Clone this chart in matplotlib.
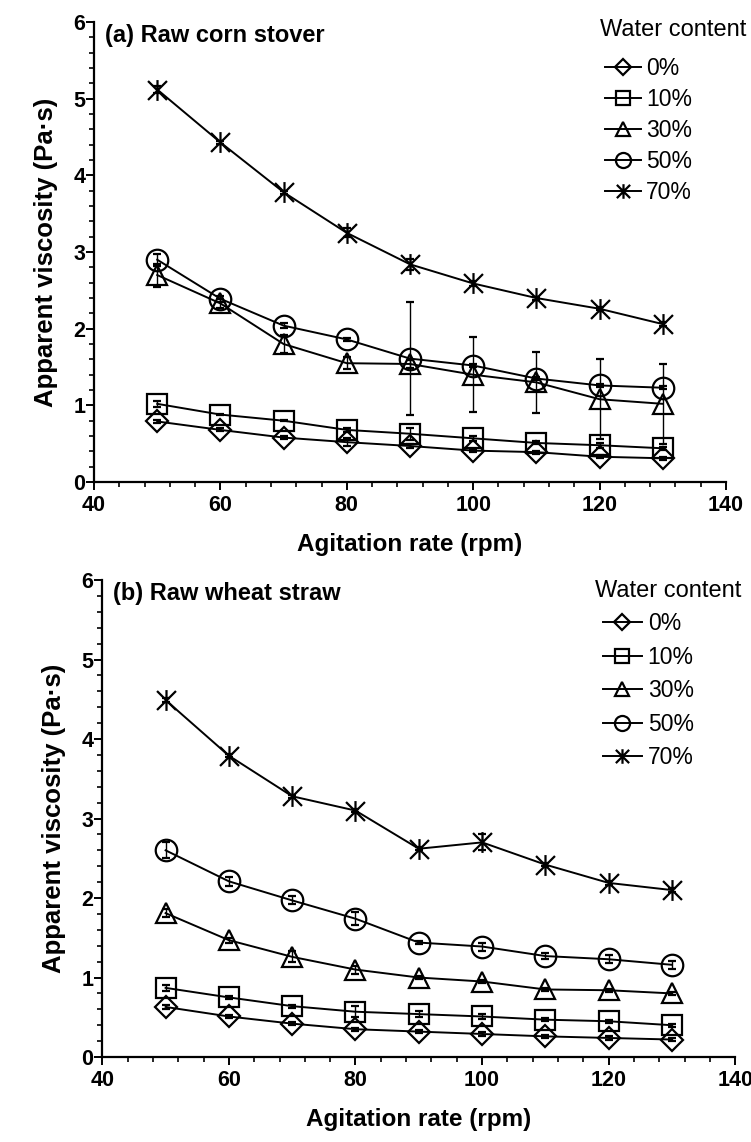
import numpy as np
import matplotlib
matplotlib.use('Agg')
import matplotlib.pyplot as plt
from matplotlib.path import Path
from matplotlib.ticker import MultipleLocator

plt.rcParams['font.family'] = ['Liberation Sans', 'DejaVu Sans']

# agitation rate (rpm)
rpm = [50, 60, 70, 80, 90, 100, 110, 120, 130]
labels = ['0%', '10%', '30%', '50%', '70%']

# (a) raw corn stover, apparent viscosity (Pa·s)
a_0 = [0.79, 0.68, 0.58, 0.52, 0.47, 0.41, 0.39, 0.33, 0.31]
a_10 = [1.02, 0.88, 0.80, 0.68, 0.63, 0.57, 0.51, 0.48, 0.44]
a_30 = [2.70, 2.33, 1.80, 1.55, 1.54, 1.40, 1.30, 1.08, 1.02]
a_50 = [2.90, 2.39, 2.04, 1.86, 1.61, 1.52, 1.35, 1.26, 1.23]
a_70 = [5.12, 4.43, 3.78, 3.25, 2.84, 2.59, 2.40, 2.26, 2.06]

a_0_err = [0.02, 0.02, 0.02, 0.05, 0.02, 0.02, 0.02, 0.02, 0.02]
a_10_err = [0.04, 0.01, 0.01, 0.03, 0.08, 0.03, 0.02, 0.03, 0.02]
a_30_err = [0.15, 0.06, 0.12, 0.08, 0.05, 0.49, 0.40, 0.52, 0.52]
a_50_err = [0.08, 0.04, 0.03, 0.02, 0.74, 0.02, 0.02, 0.02, 0.02]
a_70_err = [0.05, 0.02, 0.02, 0.06, 0.07, 0.03, 0.02, 0.02, 0.03]

# (b) raw wheat straw, apparent viscosity (Pa·s)
b_0 = [0.63, 0.51, 0.42, 0.35, 0.32, 0.29, 0.26, 0.24, 0.22]
b_10 = [0.87, 0.75, 0.64, 0.57, 0.54, 0.51, 0.47, 0.45, 0.40]
b_30 = [1.81, 1.47, 1.26, 1.10, 1.00, 0.95, 0.85, 0.84, 0.80]
b_50 = [2.60, 2.21, 1.97, 1.74, 1.44, 1.39, 1.27, 1.23, 1.16]
b_70 = [4.49, 3.79, 3.28, 3.10, 2.62, 2.70, 2.42, 2.19, 2.10]

b_0_err = [0.02, 0.02, 0.02, 0.02, 0.02, 0.02, 0.02, 0.02, 0.02]
b_10_err = [0.04, 0.02, 0.02, 0.07, 0.04, 0.03, 0.02, 0.02, 0.02]
b_30_err = [0.05, 0.03, 0.07, 0.05, 0.02, 0.02, 0.02, 0.02, 0.02]
b_50_err = [0.10, 0.06, 0.05, 0.08, 0.02, 0.05, 0.04, 0.05, 0.05]
b_70_err = [0.03, 0.02, 0.02, 0.02, 0.02, 0.10, 0.02, 0.02, 0.02]

# excel style star: an X with a vertical bar
star = Path([(-0.5, -0.5), (0.5, 0.5), (-0.5, 0.5), (0.5, -0.5), (0, -0.55), (0, 0.55)],
            [Path.MOVETO, Path.LINETO, Path.MOVETO, Path.LINETO, Path.MOVETO, Path.LINETO])
markers = ['D', 's', '^', 'o', star]
msizes = [11, 14.5, 15, 15.5, 15]


def draw_panel(ax, series, errors, title):
    for y, e, m, ms, lab in zip(series, errors, markers, msizes, labels):
        ax.errorbar(rpm, y, yerr=e, color='black', lw=1.4, marker=m, ms=ms,
                    mfc='none', mec='black', mew=1.6, ecolor='black',
                    elinewidth=1.0, capsize=3, capthick=1.0, label=lab)
    ax.set_xlim(40, 140)
    ax.set_ylim(0, 6)
    ax.xaxis.set_major_locator(MultipleLocator(20))
    ax.xaxis.set_minor_locator(MultipleLocator(4))
    ax.yaxis.set_major_locator(MultipleLocator(1))
    ax.yaxis.set_minor_locator(MultipleLocator(0.2))
    ax.spines['top'].set_visible(False)
    ax.spines['right'].set_visible(False)
    ax.spines['left'].set_linewidth(1.6)
    ax.spines['bottom'].set_linewidth(1.6)
    ax.tick_params(which='major', direction='out', length=5.5, width=1.4, labelsize=15.5, pad=0.8)
    ax.tick_params(which='minor', direction='out', length=3.5, width=1.2)
    ax.tick_params(axis='x', which='major', pad=4)
    for t in ax.get_xticklabels() + ax.get_yticklabels():
        t.set_fontweight('bold')
    ax.set_xlabel('Agitation rate (rpm)', fontsize=17.5, fontweight='bold', labelpad=12)
    ax.set_ylabel('Apparent viscosity (Pa·s)', fontsize=18.5, fontweight='bold', labelpad=11)
    ax.text(0.017, 0.995, title, transform=ax.transAxes, fontsize=17,
            fontweight='bold', va='top', ha='left')


fig = plt.figure(figsize=(7.51, 11.42), dpi=100)
ax1 = fig.add_axes([0.1252, 0.5779, 0.8415, 0.4028])
ax2 = fig.add_axes([0.1362, 0.0744, 0.8429, 0.4177])

draw_panel(ax1, [a_0, a_10, a_30, a_50, a_70],
           [a_0_err, a_10_err, a_30_err, a_50_err, a_70_err], '(a) Raw corn stover')
draw_panel(ax2, [b_0, b_10, b_30, b_50, b_70],
           [b_0_err, b_10_err, b_30_err, b_50_err, b_70_err], '(b) Raw wheat straw')

W, H = 751, 1142
# legend title position (px), legend top-left (px), spacing, handle length
legend_spots = [(ax1, (600, 30), (605, 57), 0.35, 1.55),
                (ax2, (595, 591), (603, 612), 0.46, 1.7)]
for ax, tpos, lpos, spacing, hlen in legend_spots:
    fig.text(tpos[0] / W, 1 - tpos[1] / H, 'Water content', fontsize=17,
             ha='left', va='center')
    h, l = ax.get_legend_handles_labels()
    h = [hh[0] for hh in h]
    ax.legend(h, l, loc='upper left', bbox_to_anchor=(lpos[0] / W, 1 - lpos[1] / H),
              bbox_transform=fig.transFigure, frameon=False, fontsize=16.5,
              markerscale=0.7, handlelength=hlen, handletextpad=0.25,
              labelspacing=spacing, borderpad=0, borderaxespad=0)

fig.savefig('out.png', dpi=100)
